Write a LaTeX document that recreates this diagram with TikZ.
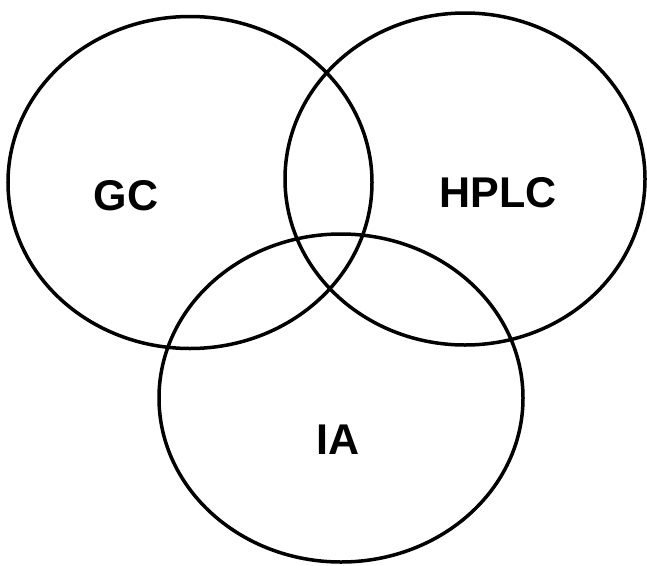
\documentclass[tikz,border=0pt]{standalone}
\usepackage{fontspec}
\setmainfont{Liberation Sans}
\begin{document}
\begin{tikzpicture}[x=1pt,y=-1pt,
  setring/.style={draw=black,line width=3.5pt,fill=none},
  setlabel/.style={font=\bfseries\fontsize{43}{43}\selectfont,inner sep=0pt,anchor=base}]
\useasboundingbox (0,0) rectangle (647,565);
\draw[setring] (190,182.5) ellipse [x radius=182, y radius=166];
\draw[setring] (465,179) ellipse [x radius=180, y radius=166];
\draw[setring] (341,398) ellipse [x radius=182, y radius=164];
\node[setlabel] (gc) at (126,210) {GC};
\node[setlabel] (hplc) at (498,207) {HPLC};
\node[setlabel] (ia) at (338,454) {IA};
\end{tikzpicture}
\end{document}
